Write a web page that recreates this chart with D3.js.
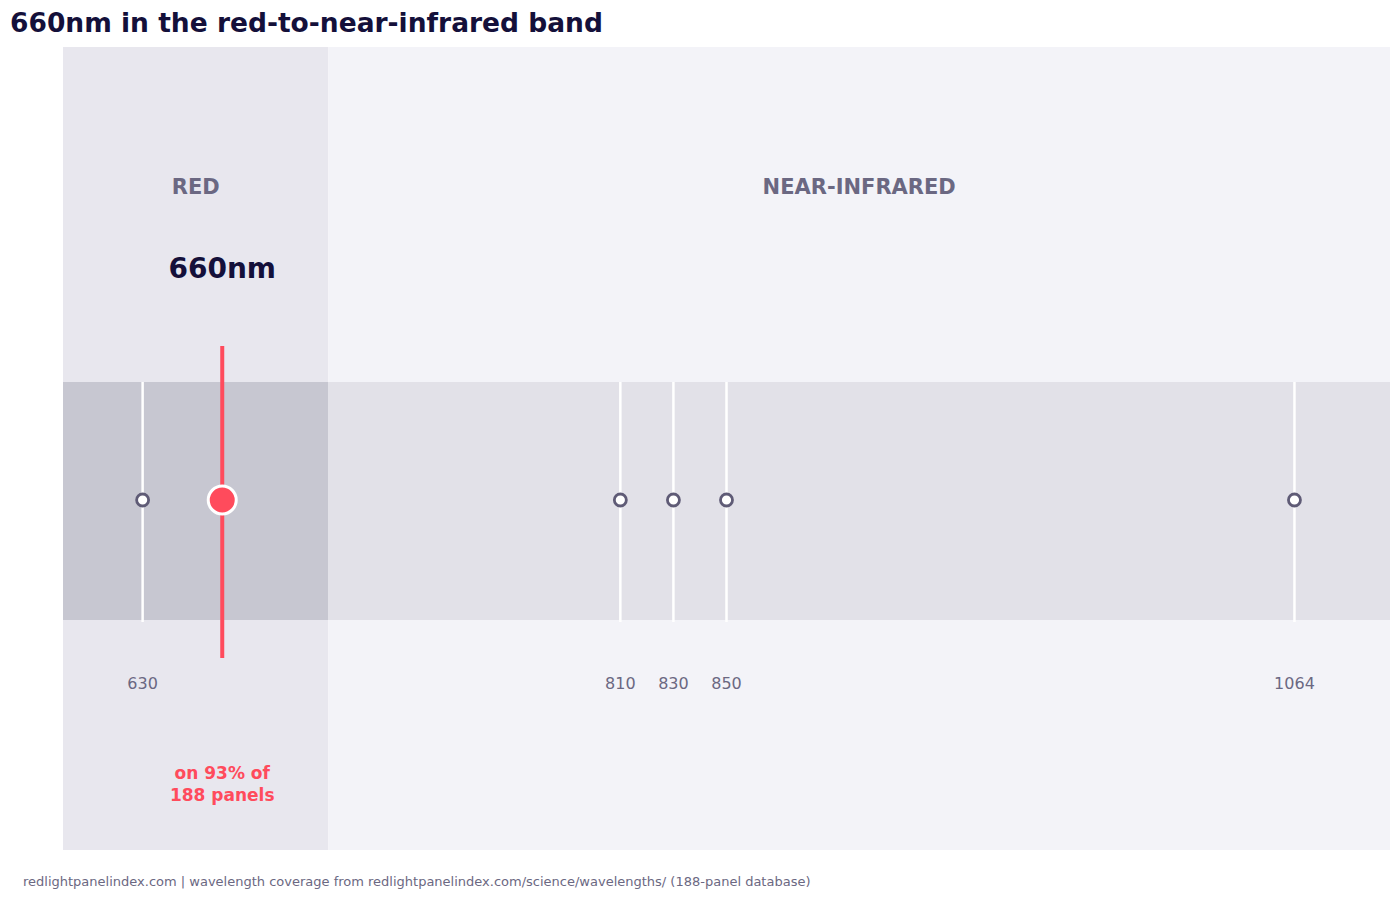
<!DOCTYPE html>
<html>
<head>
<meta charset="utf-8">
<script src="https://cdn.jsdelivr.net/npm/d3@7"></script>
<style>
  body { margin: 0; background: #ffffff; }
  svg { font-family: "DejaVu Sans", sans-serif; }
</style>
</head>
<body>
<div id="chart"></div>
<script>
// wavelengths found in the panel database (nm)
var wavelengths = [630, 660, 810, 830, 850, 1064];
var highlight = 660;
var bands = [
  { name: "RED", from: 600, to: 700 },
  { name: "NEAR-INFRARED", from: 700, to: 1100 }
];
var sharePct = 93;
var panelCount = 188;

var width = 1400, height = 900;

// plot box
var plotLeft = 63, plotRight = 1390, plotTop = 47, plotBottom = 850;
// inner band holding the dots
var bandTop = 382, bandBot = 620, dotY = 500;

var svg = d3.select("#chart")
  .append("svg")
  .attr("width", width)
  .attr("height", height);

var x = d3.scaleLinear()
  .domain([600, 1100])
  .range([plotLeft, plotRight]);

// background regions
svg.selectAll("rect.region")
  .data(bands)
  .enter()
  .append("rect")
  .attr("class", "region")
  .attr("x", function(d) { return x(d.from); })
  .attr("y", plotTop)
  .attr("width", function(d) { return x(d.to) - x(d.from); })
  .attr("height", plotBottom - plotTop)
  .attr("fill", function(d, i) { return i === 0 ? "#e8e7ee" : "#f3f3f8"; });

// the middle strip
svg.selectAll("rect.strip")
  .data(bands)
  .enter()
  .append("rect")
  .attr("class", "strip")
  .attr("x", function(d) { return x(d.from); })
  .attr("y", bandTop)
  .attr("width", function(d) { return x(d.to) - x(d.from); })
  .attr("height", bandBot - bandTop)
  .attr("fill", function(d, i) { return i === 0 ? "#c7c7d1" : "#e2e1e8"; });

// band names
svg.selectAll("text.bandName")
  .data(bands)
  .enter()
  .append("text")
  .attr("class", "bandName")
  .attr("x", function(d) { return (x(d.from) + x(d.to)) / 2; })
  .attr("y", 194)
  .attr("text-anchor", "middle")
  .attr("font-size", 21)
  .attr("font-weight", "bold")
  .attr("fill", "#6b6882")
  .text(function(d) { return d.name; });

var others = wavelengths.filter(function(w) { return w !== highlight; });

// white guide lines for each wavelength
svg.selectAll("line.guide")
  .data(others)
  .enter()
  .append("line")
  .attr("class", "guide")
  .attr("x1", function(d) { return x(d); })
  .attr("x2", function(d) { return x(d); })
  .attr("y1", bandTop)
  .attr("y2", bandBot + 2)
  .attr("stroke", "#ffffff")
  .attr("stroke-width", 2.5);

svg.selectAll("circle.other")
  .data(others)
  .enter()
  .append("circle")
  .attr("class", "other")
  .attr("cx", function(d) { return x(d); })
  .attr("cy", dotY)
  .attr("r", 6)
  .attr("fill", "#ffffff")
  .attr("stroke", "#5f5b76")
  .attr("stroke-width", 2.8);

svg.selectAll("text.tick")
  .data(others)
  .enter()
  .append("text")
  .attr("class", "tick")
  .attr("x", function(d) { return x(d); })
  .attr("y", 689)
  .attr("text-anchor", "middle")
  .attr("font-size", 16)
  .attr("fill", "#6b6882")
  .text(function(d) { return d; });

// highlighted wavelength
svg.append("line")
  .attr("x1", x(highlight))
  .attr("x2", x(highlight))
  .attr("y1", 346)
  .attr("y2", 658)
  .attr("stroke", "#ff4b5c")
  .attr("stroke-width", 4);

svg.append("circle")
  .attr("cx", x(highlight))
  .attr("cy", dotY)
  .attr("r", 14)
  .attr("fill", "#ff4b5c")
  .attr("stroke", "#ffffff")
  .attr("stroke-width", 3);

svg.append("text")
  .attr("x", x(highlight))
  .attr("y", 278)
  .attr("text-anchor", "middle")
  .attr("font-size", 28)
  .attr("font-weight", "bold")
  .attr("fill", "#14103a")
  .text(highlight + "nm");

var note = svg.append("text")
  .attr("x", x(highlight))
  .attr("y", 779)
  .attr("text-anchor", "middle")
  .attr("font-size", 17)
  .attr("font-weight", "bold")
  .attr("fill", "#ff4b5c");
note.append("tspan").attr("x", x(highlight)).text("on " + sharePct + "% of");
note.append("tspan").attr("x", x(highlight)).attr("dy", 22).text(panelCount + " panels");

// title
svg.append("text")
  .attr("x", 10)
  .attr("y", 32)
  .attr("font-size", 26.5)
  .attr("font-weight", "bold")
  .attr("fill", "#14103a")
  .text("660nm in the red-to-near-infrared band");

// footer
svg.append("text")
  .attr("x", 23)
  .attr("y", 886)
  .attr("font-size", 13)
  .attr("fill", "#6b6882")
  .text("redlightpanelindex.com | wavelength coverage from redlightpanelindex.com/science/wavelengths/ (188-panel database)");
</script>
</body>
</html>
